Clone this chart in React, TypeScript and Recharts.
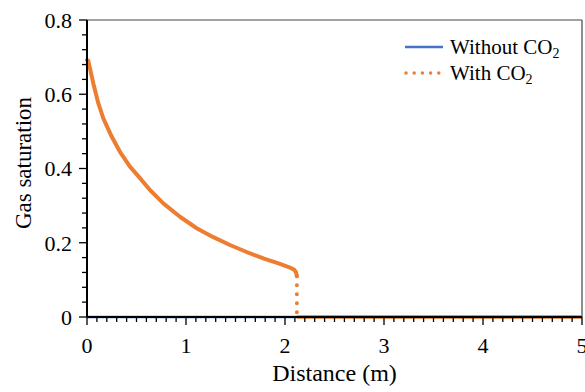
import React from 'react';
import { LineChart, Line, XAxis, YAxis, ReferenceLine, Legend } from 'recharts';

// Gas saturation profile with CO2 (distance in m, saturation fraction)
const distanceWithCO2 = [0, 0.013, 0.064, 0.114, 0.165, 0.249, 0.333, 0.434, 0.535, 0.636, 0.771, 0.939, 1.108, 1.276, 1.444, 1.613, 1.781, 1.949, 2.05, 2.09, 2.11, 2.12];
const saturationWithCO2 = [0.692, 0.69, 0.629, 0.576, 0.535, 0.486, 0.445, 0.405, 0.374, 0.342, 0.306, 0.27, 0.239, 0.215, 0.194, 0.175, 0.158, 0.143, 0.133, 0.128, 0.121, 0.11];

// Saturation front: sharp drop to zero
const frontDistance = [2.12, 2.12];
const frontSaturation = [0.11, 0];

// Region ahead of the front
const aheadDistance = [2.12, 5];
const aheadSaturation = [0, 0];

// Case without CO2
const distanceWithout = [0, 5];
const saturationWithout = [0, 0];

const xTickLabels = ['0', '1', '2', '3', '4', '5'];
const yTickLabels = ['0', '0.2', '0.4', '0.6', '0.8'];

const BLUE = '#4472C4';
const ORANGE = '#ED7D31';
const FONT = '"Liberation Serif", "Times New Roman", serif';

const toPoints = (xs: number[], ys: number[]) => xs.map((x, i) => ({ x, y: ys[i] }));

const withCO2Data = toPoints(distanceWithCO2, saturationWithCO2);
const frontData = toPoints(frontDistance, frontSaturation);
const aheadData = toPoints(aheadDistance, aheadSaturation);
const withoutData = toPoints(distanceWithout, saturationWithout);

const xMajor = xTickLabels.map(Number);
const yMajor = yTickLabels.map(Number);

// major + minor tick positions (minor every 0.1 m and every 0.04)
const xTicks: number[] = [];
for (let i = 0; i <= 50; i++) xTicks.push(i / 10);
const yTicks: number[] = [];
for (let i = 0; i <= 20; i++) yTicks.push(Math.round(i * 4) / 100);

const findMajor = (list: number[], v: number) => list.findIndex((m) => Math.abs(m - v) < 1e-6);

const XTick = (props: any) => {
  const { x, y, payload } = props;
  const idx = findMajor(xMajor, payload.value);
  const major = idx >= 0;
  return (
    <g>
      <line x1={x} x2={x} y1={y} y2={y + (major ? 8 : 5)} stroke="#000" strokeWidth={1.3} />
      {major && (
        <text x={x} y={y + 36} textAnchor="middle" fontFamily={FONT} fontSize={22} fill="#000">
          {xTickLabels[idx]}
        </text>
      )}
    </g>
  );
};

const YTick = (props: any) => {
  const { x, y, payload } = props;
  const idx = findMajor(yMajor, payload.value);
  const major = idx >= 0;
  return (
    <g>
      <line x1={x - (major ? 8 : 5)} x2={x} y1={y} y2={y} stroke="#000" strokeWidth={1.3} />
      {major && (
        <text x={x - 15} y={y} dy="0.36em" textAnchor="end" fontFamily={FONT} fontSize={22} fill="#000">
          {yTickLabels[idx]}
        </text>
      )}
    </g>
  );
};

const LegendBox = () => (
  <svg width={185} height={60} style={{ display: 'block', overflow: 'visible' }}>
    <line x1={5} x2={43} y1={17} y2={17} stroke={BLUE} strokeWidth={2.5} />
    <text x={50} y={24} fontFamily={FONT} fontSize={21} fill="#000">
      Without CO<tspan fontSize={14} dy={4}>2</tspan>
    </text>
    <line x1={6} x2={43} y1={43} y2={43} stroke={ORANGE} strokeWidth={3.5} strokeDasharray="0 8.2" strokeLinecap="round" />
    <text x={50} y={50} fontFamily={FONT} fontSize={21} fill="#000">
      With CO<tspan fontSize={14} dy={4}>2</tspan>
    </text>
  </svg>
);

export default function App() {
  return (
    <div style={{ position: 'absolute', left: 0, top: 0, width: 585, height: 392, background: '#fff' }}>
      <LineChart width={585} height={392} margin={{ top: 20, right: 3, bottom: 0, left: 0 }}>
        <XAxis
          dataKey="x"
          type="number"
          domain={[0, 5]}
          ticks={xTicks}
          interval={0}
          height={75}
          tickSize={0}
          tickMargin={0}
          tickLine={false}
          tick={<XTick />}
          axisLine={{ stroke: '#000', strokeWidth: 2 }}
          label={(p: any) => {
            const vb = p.viewBox;
            return (
              <text x={vb.x + vb.width / 2} y={381} textAnchor="middle" fontFamily={FONT} fontSize={24} fill="#000">
                Distance (m)
              </text>
            );
          }}
        />
        <YAxis
          dataKey="y"
          type="number"
          domain={[0, 0.8]}
          ticks={yTicks}
          interval={0}
          width={87}
          tickSize={0}
          tickMargin={0}
          tickLine={false}
          tick={<YTick />}
          axisLine={{ stroke: '#000', strokeWidth: 2 }}
          label={() => (
            <text x={31} y={163} transform="rotate(-90, 31, 163)" textAnchor="middle" fontFamily={FONT} fontSize={23} fill="#000">
              Gas saturation
            </text>
          )}
        />
        <ReferenceLine y={0.8} stroke="#444" strokeWidth={1.2} />
        <ReferenceLine x={5} stroke="#444" strokeWidth={1.2} />
        <Legend
          layout="vertical"
          align="center"
          verticalAlign="middle"
          content={() => <LegendBox />}
          wrapperStyle={{ position: 'absolute', left: 400, top: 30, width: 185 }}
        />
        <Line data={withoutData} dataKey="y" name="Without CO2" stroke={BLUE} strokeWidth={2.5} dot={false} isAnimationActive={false} />
        <Line data={aheadData} dataKey="y" name="With CO2" stroke={ORANGE} strokeWidth={3.5} dot={false} isAnimationActive={false} legendType="none" />
        <Line data={frontData} dataKey="y" stroke={ORANGE} strokeWidth={4} strokeDasharray="0 9" strokeLinecap="round" dot={false} isAnimationActive={false} legendType="none" />
        <Line data={withCO2Data} dataKey="y" stroke={ORANGE} strokeWidth={4} strokeLinejoin="round" strokeLinecap="round" dot={false} isAnimationActive={false} legendType="none" />
      </LineChart>
    </div>
  );
}
